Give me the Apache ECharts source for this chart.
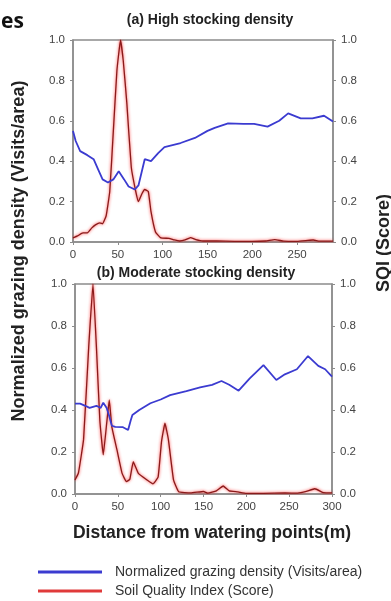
<!DOCTYPE html>
<html>
<head>
<meta charset="utf-8">
<script src="https://cdn.jsdelivr.net/npm/echarts@6/dist/echarts.min.js"></script>
<style>
  html, body { margin: 0; padding: 0; background: #fff; }
  #main { width: 391px; height: 601px; }
</style>
</head>
<body>
<div id="main"></div>
<script>
// (a) high stocking density - grazing density (left axis)
var aGrazeX = [0, 3, 8, 16, 23, 28, 33, 39, 45, 51, 57, 62, 69, 73, 80, 87, 95, 102, 120, 136, 150, 158, 173, 190, 202, 217, 230, 240, 254, 267, 280, 290];
var aGrazeY = [0.55, 0.50, 0.45, 0.43, 0.41, 0.36, 0.31, 0.295, 0.31, 0.35, 0.31, 0.275, 0.26, 0.28, 0.41, 0.40, 0.44, 0.47, 0.49, 0.515, 0.55, 0.565, 0.587, 0.585, 0.585, 0.571, 0.60, 0.637, 0.612, 0.612, 0.625, 0.596];
// (a) soil quality index (right axis)
var aSqiX = [0, 5, 11, 16, 21, 25, 30, 33, 37, 41, 45, 49, 53, 56, 60, 65, 70, 73, 77, 80, 84, 87, 92, 98, 107, 113, 119, 125, 131, 137, 145, 160, 180, 200, 215, 225, 235, 250, 262, 268, 275, 290];
var aSqiY = [0.02, 0.03, 0.045, 0.045, 0.07, 0.085, 0.095, 0.09, 0.13, 0.25, 0.55, 0.85, 1.0, 0.9, 0.69, 0.37, 0.25, 0.2, 0.24, 0.26, 0.25, 0.15, 0.05, 0.02, 0.018, 0.01, 0.005, 0.01, 0.022, 0.012, 0.005, 0.005, 0.003, 0.003, 0.005, 0.012, 0.004, 0.003, 0.008, 0.01, 0.004, 0.004];

// (b) moderate stocking density
var bGrazeX = [0, 6, 12, 17, 21, 25, 30, 33, 37, 40, 43, 47, 56, 62, 65, 67, 75, 88, 100, 111, 130, 146, 160, 171, 180, 191, 204, 220, 235, 245, 259, 272, 284, 292, 300];
var bGrazeY = [0.43, 0.43, 0.42, 0.41, 0.415, 0.42, 0.41, 0.435, 0.41, 0.37, 0.325, 0.32, 0.318, 0.305, 0.35, 0.376, 0.40, 0.432, 0.45, 0.471, 0.49, 0.508, 0.52, 0.538, 0.52, 0.492, 0.551, 0.614, 0.543, 0.57, 0.594, 0.657, 0.61, 0.594, 0.559];
var bSqiX = [0, 4, 10, 16, 21, 25, 29, 33, 37, 40, 43, 49, 55, 60, 64, 68, 74, 84, 91, 97, 101, 105, 109, 115, 121, 135, 150, 155, 165, 173, 180, 190, 200, 220, 245, 260, 270, 280, 290, 300];
var bSqiY = [0.067, 0.1, 0.26, 0.70, 1.0, 0.70, 0.35, 0.186, 0.337, 0.448, 0.32, 0.21, 0.098, 0.059, 0.07, 0.154, 0.098, 0.067, 0.048, 0.08, 0.25, 0.337, 0.26, 0.067, 0.011, 0.005, 0.012, 0.004, 0.015, 0.038, 0.015, 0.01, 0.003, 0.003, 0.005, 0.004, 0.012, 0.025, 0.006, 0.005];

var grazeName = 'Normalized grazing density (Visits/area)';
var sqiName = 'Soil Quality Index (Score)';

function zip(xs, ys) {
    return xs.map(function (x, i) { return [x, ys[i]]; });
}

var myChart = echarts.init(document.getElementById('main'));

var labelStyle = { color: '#444', fontSize: 11.5, fontFamily: 'Liberation Sans, Arial' };
var grey = '#8c8c8c';
var blue = '#3b3bd0';
var red = '#e03a3a';

function xAx(gridIndex, max) {
    return {
        type: 'value', gridIndex: gridIndex, min: 0, max: max, interval: 50,
        axisLine: { show: true, lineStyle: { color: grey, width: 1.5 } },
        axisTick: { show: true, length: 3, lineStyle: { color: grey } },
        axisLabel: Object.assign({ margin: 7, showMaxLabel: max % 50 === 0 }, labelStyle),
        splitLine: { show: false }
    };
}
function yAx(gridIndex, pos) {
    return {
        type: 'value', gridIndex: gridIndex, position: pos, min: 0, max: 1, interval: 0.2,
        axisLine: { show: true, lineStyle: { color: grey, width: 1.5 } },
        axisTick: { show: true, length: 3, lineStyle: { color: grey } },
        axisLabel: Object.assign({ margin: 8, formatter: function (v) { return v.toFixed(1); } }, labelStyle),
        splitLine: { show: false }
    };
}

// 图例：两条分开放，避免竖排时换列
function legendAt(top, name, color) {
    return {
        orient: 'vertical', left: 38, top: top, padding: 0,
        itemWidth: 64, itemHeight: 3, icon: 'rect',
        textStyle: { color: '#333', fontSize: 14, fontFamily: 'Liberation Sans, Arial', padding: [0, 0, 0, 8] },
        data: [{ name: name, itemStyle: { color: color } }]
    };
}

var blueLine = { color: blue, width: 1.8 };
var redLine = { color: '#8a1a1a', width: 1.3, shadowColor: '#ff2a2a', shadowBlur: 3 };

var option = {
    backgroundColor: '#fff',
    animation: false,
    grid: [
        { left: 73, top: 40, width: 260, height: 202, show: true, borderColor: grey, borderWidth: 1.5 },
        { left: 75, top: 284, width: 257, height: 210, show: true, borderColor: grey, borderWidth: 1.5 }
    ],
    xAxis: [xAx(0, 290), xAx(1, 300)],
    yAxis: [yAx(0, 'left'), yAx(0, 'right'), yAx(1, 'left'), yAx(1, 'right')],
    legend: [legendAt(565, grazeName, blue), legendAt(584, sqiName, red)],
    graphic: [
        { type: 'text', left: 1, top: 12, style: { text: 'es', font: 'bold 21px "Open Sans", sans-serif', fill: '#111' } },
        { type: 'text', x: 210, y: 20, style: { text: '(a) High stocking density', font: 'bold 14px "Liberation Sans", Arial', fill: '#222', textAlign: 'center', textVerticalAlign: 'middle' } },
        { type: 'text', x: 196, y: 273, style: { text: '(b) Moderate stocking density', font: 'bold 14px "Liberation Sans", Arial', fill: '#222', textAlign: 'center', textVerticalAlign: 'middle' } },
        { type: 'text', x: 212, y: 533, style: { text: 'Distance from watering points(m)', font: 'bold 17.5px "Liberation Sans", Arial', fill: '#222', textAlign: 'center', textVerticalAlign: 'middle' } },
        { type: 'text', x: 19, y: 251, rotation: Math.PI / 2, style: { text: grazeName, font: 'bold 18px "Liberation Sans", Arial', fill: '#222', textAlign: 'center', textVerticalAlign: 'middle' } },
        { type: 'text', x: 384, y: 243, rotation: Math.PI / 2, style: { text: 'SQI (Score)', font: 'bold 18px "Liberation Sans", Arial', fill: '#222', textAlign: 'center', textVerticalAlign: 'middle' } }
    ],
    series: [
        { name: grazeName, type: 'line', xAxisIndex: 0, yAxisIndex: 0, showSymbol: false, lineStyle: blueLine, itemStyle: { color: blue }, data: zip(aGrazeX, aGrazeY), z: 3 },
        { name: sqiName, type: 'line', xAxisIndex: 0, yAxisIndex: 1, showSymbol: false, smooth: 0.1, lineStyle: redLine, itemStyle: { color: red }, data: zip(aSqiX, aSqiY), z: 2 },
        { name: grazeName, type: 'line', xAxisIndex: 1, yAxisIndex: 2, showSymbol: false, lineStyle: blueLine, itemStyle: { color: blue }, data: zip(bGrazeX, bGrazeY), z: 3 },
        { name: sqiName, type: 'line', xAxisIndex: 1, yAxisIndex: 3, showSymbol: false, smooth: 0.1, lineStyle: redLine, itemStyle: { color: red }, data: zip(bSqiX, bSqiY), z: 2 }
    ]
};

option && myChart.setOption(option);
</script>
</body>
</html>
